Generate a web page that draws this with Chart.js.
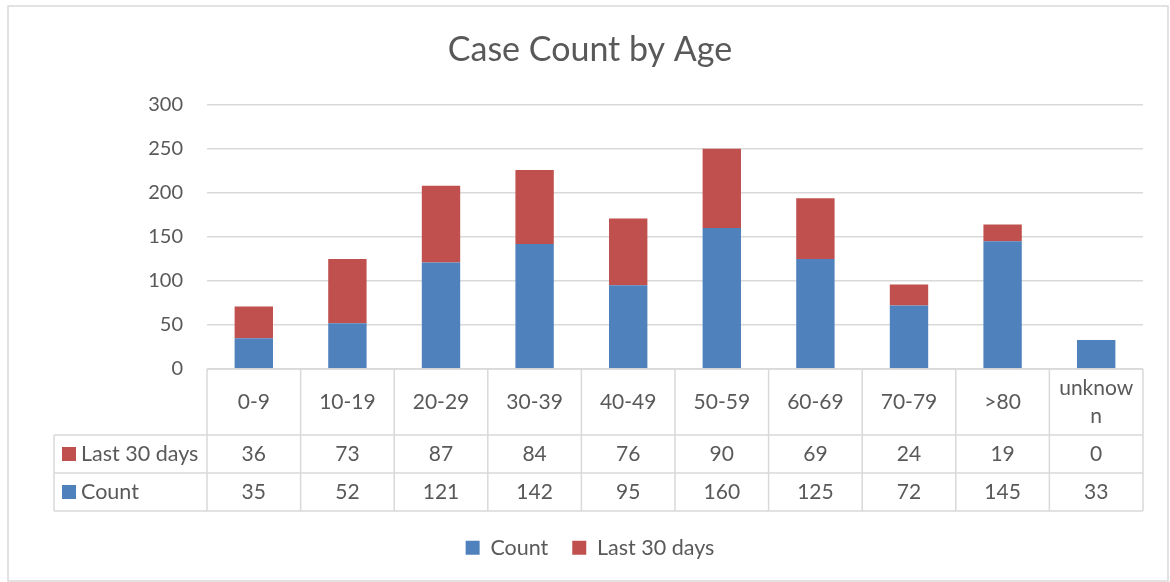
<!DOCTYPE html>
<html>
<head>
<meta charset="utf-8">
<script src="https://cdn.jsdelivr.net/npm/chart.js@4/dist/chart.umd.min.js"></script>
<style>
html,body{margin:0;padding:0;background:#fff;}
#wrap{width:1170px;height:582px;position:relative;}
</style>
</head>
<body>
<div id="wrap"><canvas id="c" width="1170" height="582"></canvas></div>
<script>
const categories = ["0-9","10-19","20-29","30-39","40-49","50-59","60-69","70-79",">80","unknown"];
const categoryLines = [["0-9"],["10-19"],["20-29"],["30-39"],["40-49"],["50-59"],["60-69"],["70-79"],[">80"],["unknow","n"]];
const countValues = [35,52,121,142,95,160,125,72,145,33];
const last30Values = [36,73,87,84,76,90,69,24,19,0];
const yTicks = [0,50,100,150,200,250,300];

const BLUE = "#4F81BD", RED = "#C0504D", TEXT = "#595959", LINE = "#D9D9D9";
const FONT = "Lato, 'Open Sans', sans-serif";

const legendFitPlugin = {
  id: "legendFit",
  afterInit(chart) {
    const L = chart.legend;
    if (!L) return;
    const orig = L.fit.bind(L);
    L.fit = function () { orig(); this.height = 56; };
  }
};

const tablePlugin = {
  id: "dataTable",
  afterDraw(chart) {
    const ctx = chart.ctx;
    const x = chart.scales.x;
    const area = chart.chartArea;
    const n = categories.length;
    const colW = (area.right - area.left) / n;
    const top = area.bottom;
    const r1 = top + 66, r2 = r1 + 38, r3 = r2 + 38;
    const labelLeft = 54;
    ctx.save();
    ctx.strokeStyle = LINE;
    ctx.lineWidth = 1.5;
    ctx.beginPath();
    ctx.moveTo(area.left, top); ctx.lineTo(area.right, top);
    ctx.moveTo(labelLeft, r1); ctx.lineTo(area.right, r1);
    ctx.moveTo(labelLeft, r2); ctx.lineTo(area.right, r2);
    ctx.moveTo(labelLeft, r3); ctx.lineTo(area.right, r3);
    for (let i = 0; i <= n; i++) {
      const xx = area.left + i * colW;
      ctx.moveTo(xx, top); ctx.lineTo(xx, r3);
    }
    ctx.moveTo(labelLeft, r1); ctx.lineTo(labelLeft, r3);
    ctx.stroke();

    ctx.fillStyle = TEXT;
    ctx.font = "21px " + FONT;
    ctx.textAlign = "center";
    ctx.textBaseline = "middle";
    for (let i = 0; i < n; i++) {
      const cx = x.getPixelForValue(i);
      const lines = categoryLines[i];
      const midY = (top + r1) / 2;
      lines.forEach((t, k) => {
        ctx.fillText(t, cx, midY + (k - (lines.length - 1) / 2) * 28);
      });
      ctx.fillText(String(last30Values[i]), cx, (r1 + r2) / 2);
      ctx.fillText(String(countValues[i]), cx, (r2 + r3) / 2);
    }
    ctx.textAlign = "left";
    ctx.fillStyle = RED;
    ctx.fillRect(62, (r1 + r2) / 2 - 7, 14, 14);
    ctx.fillStyle = BLUE;
    ctx.fillRect(62, (r2 + r3) / 2 - 7, 14, 14);
    ctx.fillStyle = TEXT;
    ctx.font = "21.5px " + FONT;
    ctx.fillText(chart.data.datasets[1].label, 81, (r1 + r2) / 2);
    ctx.fillText(chart.data.datasets[0].label, 81, (r2 + r3) / 2);

    ctx.lineWidth = 1.5;
    ctx.strokeRect(8, 6, 1160, 575);
    ctx.restore();
  }
};

new Chart(document.getElementById("c"), {
  type: "bar",
  data: {
    labels: categories,
    datasets: [
      { label: "Count", data: countValues, backgroundColor: BLUE, stack: "s" },
      { label: "Last 30 days", data: last30Values, backgroundColor: RED, stack: "s" }
    ]
  },
  options: {
    responsive: false,
    animation: false,
    layout: { padding: { top: 20, left: 37, right: 27, bottom: 13 } },
    datasets: { bar: { categoryPercentage: 1.0, barPercentage: 0.41 } },
    plugins: {
      title: {
        display: true,
        text: "Case Count by Age",
        color: TEXT,
        font: { family: FONT, size: 34, weight: "normal" },
        padding: { top: 10, bottom: 34 }
      },
      legend: {
        position: "bottom",
        labels: {
          color: TEXT,
          font: { family: FONT, size: 21.5 },
          boxWidth: 14, boxHeight: 14, padding: 24
        }
      },
      tooltip: { enabled: false }
    },
    scales: {
      x: {
        stacked: true,
        grid: { display: false },
        border: { display: false },
        ticks: { display: false },
        afterFit(s) { s.height = 144; }
      },
      y: {
        stacked: true,
        min: 0, max: 300,
        afterBuildTicks(s) { s.ticks = yTicks.map(v => ({ value: v })); },
        afterFit(s) { s.width = 170; },
        grid: { color: LINE, lineWidth: 1.5, drawTicks: false },
        border: { display: false },
        ticks: { color: TEXT, font: { family: FONT, size: 20 }, padding: 24 }
      }
    }
  },
  plugins: [legendFitPlugin, tablePlugin]
});
</script>
</body>
</html>
